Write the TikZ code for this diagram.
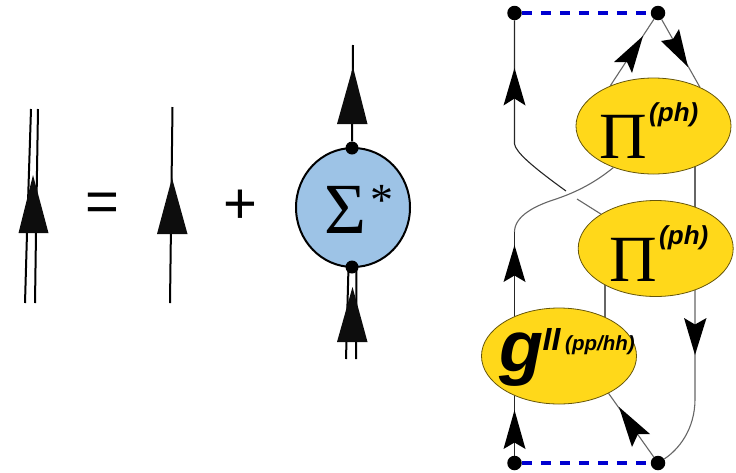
\documentclass[tikz,border=0pt]{standalone}
\usepackage{fontspec}
\setmainfont{Liberation Sans}
\newfontfamily\serifface{Liberation Serif}
\usetikzlibrary{shapes.geometric}
\pgfdeclarelayer{wires}
\pgfsetlayers{wires,main}
\definecolor{goldfill}{HTML}{FFD81A}
\definecolor{sigmafill}{HTML}{9DC3E6}
\definecolor{wire}{HTML}{666666}
\definecolor{dashblue}{HTML}{0000D0}
\tikzset{
  x=1pt,y=-1pt,
  dotnode/.style={circle,fill=black,inner sep=0pt,minimum size=14.5pt},
  smalldot/.style={circle,fill=black,inner sep=0pt,minimum size=13pt},
  gold/.style={ellipse,draw=black!60!goldfill,line width=.8pt,fill=goldfill,inner sep=0pt,minimum width=155pt,minimum height=96pt},
  wirel/.style={draw=wire,line width=1.1pt},
  wired/.style={draw=black!85,line width=1.1pt},
  thick line/.style={draw=black,line width=2pt},
  bluedash/.style={draw=dashblue,line width=3.2pt,dash pattern=on 10.5pt off 8.5pt},
  arrowfill/.style={fill=black,draw=none},
  bighead/.style={fill=black!95,draw=none},
  txt/.style={inner sep=0pt,text=black},
}
\newcommand{\fs}[1]{\fontsize{#1}{#1}\selectfont}
\begin{document}
\begin{tikzpicture}
\useasboundingbox (0,0) rectangle (736,472);
% left equation
\draw[thick line] (31,109) -- (27,233) -- (25,303);
\draw[thick line] (38,109) -- (36,233) -- (35,303);
\fill[bighead] (33,175) -- (48.5,233) -- (18.5,233) -- cycle;
\node[txt] (eq) at (102,207) {\fs{58}=};
\draw[thick line] (172.5,107) -- (170,303);
\fill[bighead] (172,178) -- (187.5,234) -- (157,234) -- cycle;
\node[txt] (plus) at (240,207) {\fs{58}+};
% self-energy
\node[ellipse,draw=black,line width=2pt,fill=sigmafill,inner sep=0pt,minimum width=114pt,minimum height=119pt] (sig) at (353,207.5) {};
\node[smalldot] (sa) at (352,148) {};
\node[smalldot] (sb) at (352,267) {};
\coordinate (stop) at (353,45);
\coordinate (sl) at (346,359);
\coordinate (sr) at (356,359);
\draw[thick line] (stop) -- (sa);
\draw[thick line] ([xshift=-3.5pt]sb.center) -- (sl);
\draw[thick line] ([xshift=4.5pt]sb.center) -- (sr);
\fill[bighead] (353,67) -- (367.5,124) -- (337,124) -- cycle;
\fill[bighead] (352.5,287) -- (367.5,342) -- (337,342) -- cycle;
\node[txt] (sgm) at (345,209.5) {\serifface\fs{72}Σ};
\node[txt] (ast) at (382,200) {\serifface\fs{46}*};
% right diagram
\node[dotnode] (tl) at (514.5,13) {};
\node[dotnode] (tr) at (658,13) {};
\node[dotnode] (bl) at (514.5,463) {};
\node[dotnode] (br) at (658,463) {};
\node[gold] (pa) at (653.5,126) {};
\node[gold] (pb) at (655.7,248.5) {};
\node[gold] (g) at (559,356) {};
\coordinate (gapa) at (566,191);
\coordinate (gapb) at (577,199);
\coordinate (bendl) at (514.5,144);
\coordinate (bendm) at (514.5,232);
\coordinate (bendr) at (695,399);
\coordinate (stem) at (605,300);
\begin{pgfonlayer}{wires}
\draw[bluedash] (tl) -- (tr);
\draw[bluedash] (bl) -- (br);
\draw[wired] (tl) -- (bendl) .. controls (516,152) and (530,165) .. (gapa);
\draw[wirel] (gapb) -- (pb);
\draw[wirel] (pa.226) .. controls (597,181) and (578,192) .. (553,200) .. controls (535,206) and (514.5,216) .. (bendm);
\draw[wired] (bendm) -- (bendm |- g);
\draw[wirel] (pa.137) -- (tr);
\draw[wirel] (tr) -- (pa.40);
\draw[wirel] (bendr |- pa) -- (bendr |- pb);
\draw[wirel] (bendr |- pb) -- (bendr) .. controls (695,430) and (678,450) .. (br);
\draw[wirel] (stem |- pb) -- (stem |- g);
\draw[wired] (bl |- g) -- (bl);
\draw[wirel] (g.-37.2) -- (br);
\end{pgfonlayer}
% arrowheads
\fill[arrowfill] (514.5,68) -- (525.5,105.5) -- (514.5,98.5) -- (503.5,105.5) -- cycle;
\fill[arrowfill] (514.5,245) -- (525.5,282) -- (514.5,275.5) -- (503.5,282) -- cycle;
\fill[arrowfill] (514.5,410) -- (525.5,449) -- (514.5,442.5) -- (503.5,449) -- cycle;
\fill[arrowfill] (695,355) -- (706.5,318) -- (695,324.5) -- (684,318) -- cycle;
\fill[arrowfill] (643,36) -- (632,73) -- (627,62) -- (614,62) -- cycle;
\fill[arrowfill] (688,67) -- (661,41) -- (673,39) -- (679,29) -- cycle;
\fill[arrowfill] (619,407) -- (650,434) -- (638,434) -- (632,447) -- cycle;
% labels
\node[txt,anchor=base west] (pia) at (599,158) {\serifface\fs{66}Π};
\node[txt,anchor=base west] (sua) at (649,121.5) {\fs{26}\bfseries\itshape (ph)};
\node[txt,anchor=base west] (pib) at (609,281) {\serifface\fs{66}Π};
\node[txt,anchor=base west] (sub) at (659,244.5) {\fs{26}\bfseries\itshape (ph)};
\node[txt,anchor=base west] (gg) at (499,371) {\fs{72}\bfseries\itshape g};
\node[txt,anchor=base west] (ii) at (542.5,350) {\fs{32}\bfseries\itshape II};
\node[txt,anchor=base west] (pp) at (565,350.5) {\fs{20.5}\bfseries\itshape (pp/hh)};
\end{tikzpicture}
\end{document}
